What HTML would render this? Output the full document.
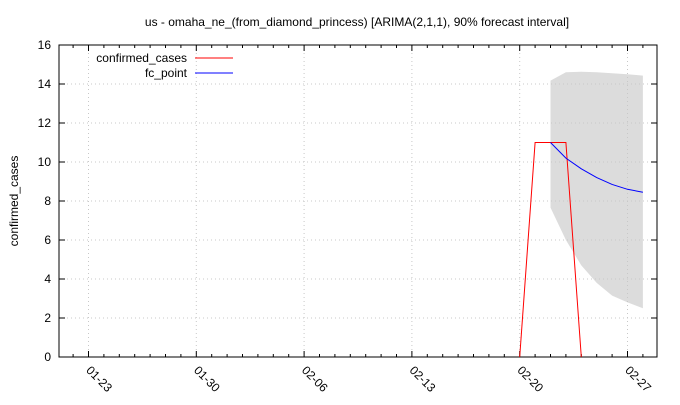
<!DOCTYPE html>
<html><head><meta charset="utf-8"><style>
body{margin:0;background:#fff;font-family:"Liberation Sans",sans-serif}
svg text{font-family:"Liberation Sans",sans-serif;font-size:12px;fill:#000}
</style></head><body>
<svg id="c" width="680" height="400"></svg>
<script>
const tickLabels=["01-23","01-30","02-06","02-13","02-20","02-27"];
const tickDays=[0,7,14,21,28,35];
const yTicks=[0,2,4,6,8,10,12,14,16];
const confDays=[28,29,31,32];
const confVals=[0,11,11,0];
const fcDays=[30,31,32,33,34,35,36];
const fcVals=[11,10.2,9.65,9.2,8.85,8.6,8.45];
const fcUpper=[14.17,14.6,14.63,14.6,14.55,14.5,14.43];
const fcLower=[7.66,6.0,4.7,3.8,3.15,2.8,2.5];

const L=59,R=657,T=45,B=357;
const X=d=>519.7+(d-28)*15.4;
const Y=v=>B-(v/16)*(B-T);
const svg=document.getElementById('c');
const NS='http://www.w3.org/2000/svg';
function mk(t,a,p){const e=document.createElementNS(NS,t);for(const k in a)e.setAttribute(k,a[k]);(p||svg).appendChild(e);return e;}

let e;
let pts=fcDays.map((d,i)=>X(d)+','+Y(fcUpper[i]));
for(let i=fcDays.length-1;i>=0;i--)pts.push(X(fcDays[i])+','+Y(fcLower[i]));
e=mk('polygon',{points:pts.join(' '),fill:'#dcdcdc'});


yTicks.forEach(v=>{if(v>0&&v<16){e=mk('line',{x1:L,x2:R,y1:Y(v),y2:Y(v),stroke:'#c8c8c8','stroke-dasharray':'1,3'});

}});
tickDays.forEach(d=>{e=mk('line',{x1:X(d),x2:X(d),y1:T,y2:B,stroke:'#c8c8c8','stroke-dasharray':'1,3'});

});
e=mk('rect',{x:L,y:T,width:R-L,height:B-T,fill:'none',stroke:'#000'});


yTicks.forEach(v=>{
 mk('line',{x1:L,x2:L+6,y1:Y(v),y2:Y(v),stroke:'#000'});
 mk('line',{x1:R,x2:R-6,y1:Y(v),y2:Y(v),stroke:'#000'});
 e=mk('text',{x:L-8,y:Y(v)+4,'text-anchor':'end'});e.textContent=v;
 
 
});
for(let d=-2;d<=37;d++){const x=X(d);if(x<L||x>R)continue;const major=tickDays.includes(d);
 mk('line',{x1:x,x2:x,y1:B,y2:B-(major?6:3),stroke:'#000'});
 mk('line',{x1:x,x2:x,y1:T,y2:T+(major?6:3),stroke:'#000'});}
tickDays.forEach((d,i)=>{e=mk('text',{x:X(d)-3,y:B+14,transform:`rotate(45 ${X(d)-3} ${B+14})`});e.textContent=tickLabels[i];
 
 });
e=mk('polyline',{points:confDays.map((d,i)=>X(d)+','+Y(confVals[i])).join(' '),fill:'none',stroke:'#f00'});


e=mk('polyline',{points:fcDays.map((d,i)=>X(d)+','+Y(fcVals[i])).join(' '),fill:'none',stroke:'#00f'});


e=mk('text',{x:357,y:26,'text-anchor':'middle'});e.textContent='us - omaha_ne_(from_diamond_princess) [ARIMA(2,1,1), 90% forecast interval]';


e=mk('text',{x:18,y:201,'text-anchor':'middle',transform:'rotate(-90 18 201)'});e.textContent='confirmed_cases';


e=mk('text',{x:187,y:62,'text-anchor':'end'});e.textContent='confirmed_cases';


mk('line',{x1:195,x2:233,y1:58,y2:58,stroke:'#f00'});
e=mk('text',{x:187,y:77,'text-anchor':'end'});e.textContent='fc_point';


mk('line',{x1:195,x2:233,y1:73,y2:73,stroke:'#00f'});
</script>
</body></html>
